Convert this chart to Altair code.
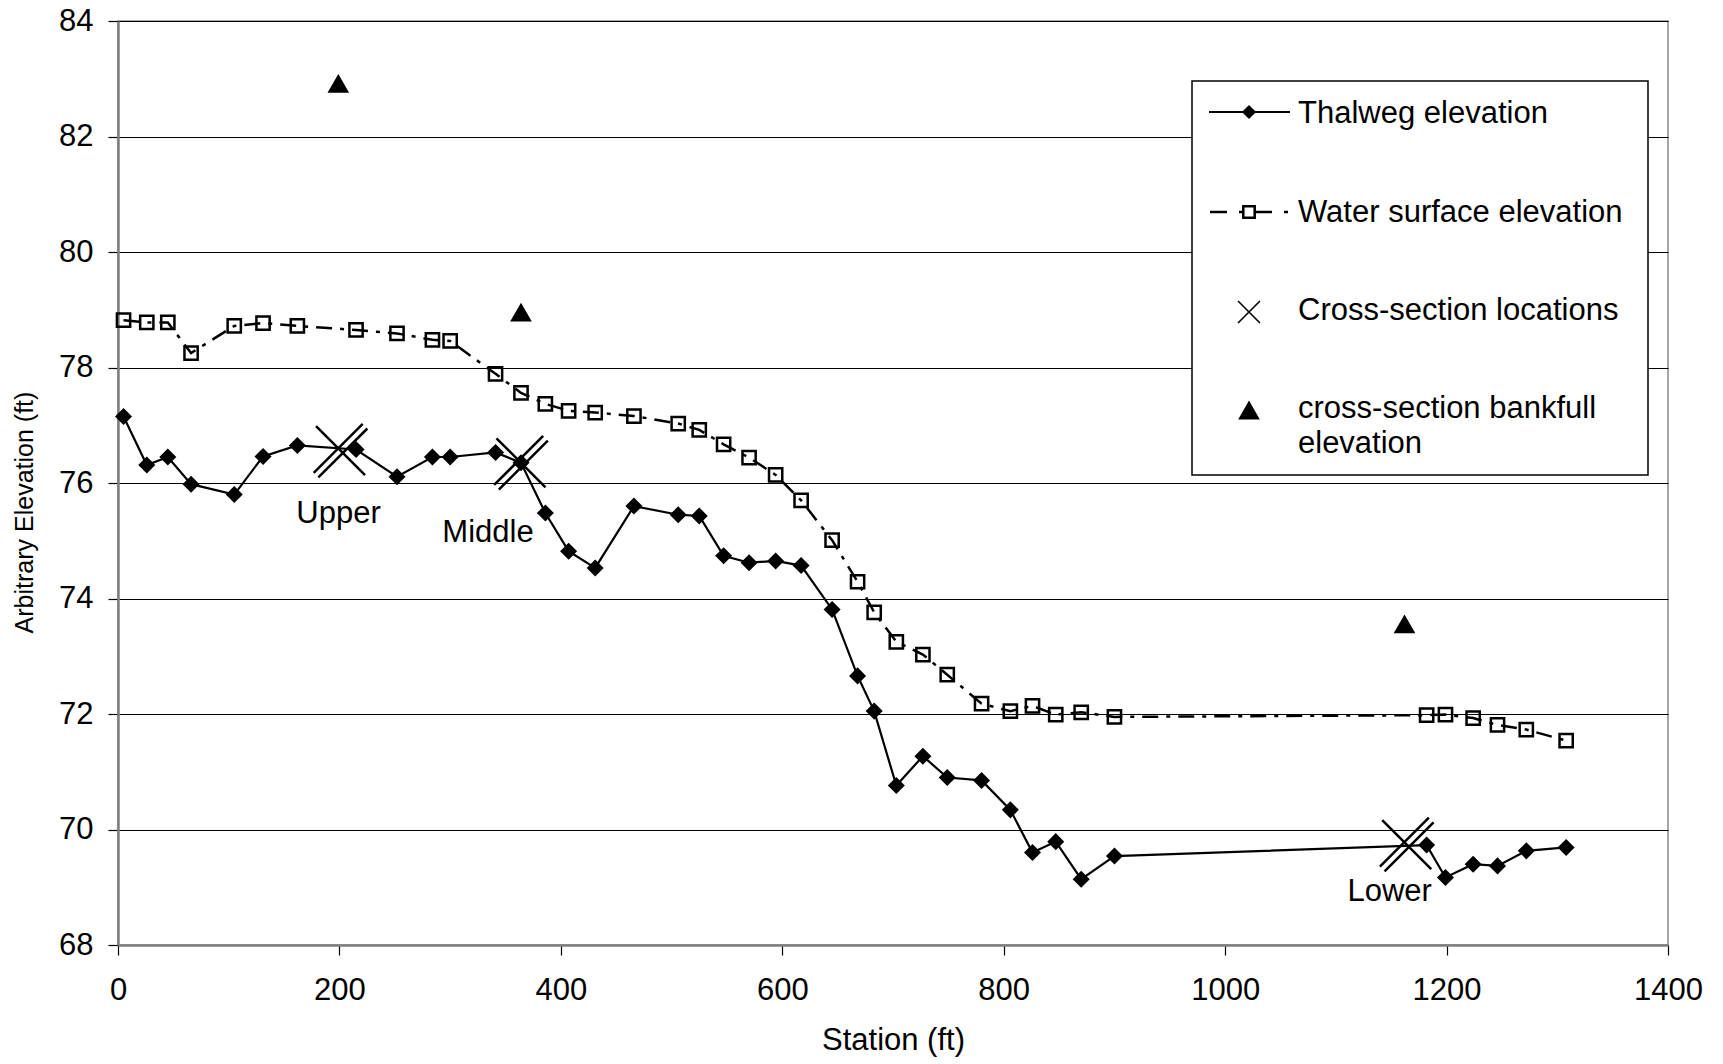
import altair as alt
import pandas as pd

# ---------------- data ----------------
stations = [5, 26, 45, 66, 105, 131, 162, 215, 252, 284, 300, 341, 364, 386, 407, 431,
            466, 506, 525, 547, 570, 594, 617, 645, 668, 683, 703, 727, 749, 780, 806,
            826, 847, 870, 900, 1182, 1199, 1224, 1246, 1272, 1308]
thalweg = [77.15, 76.31, 76.45, 75.98, 75.80, 76.46, 76.65, 76.58, 76.11, 76.45, 76.45,
           76.53, 76.35, 75.48, 74.82, 74.53, 75.60, 75.45, 75.43, 74.74, 74.62, 74.65,
           74.57, 73.81, 72.66, 72.05, 70.76, 71.27, 70.90, 70.85, 70.34, 69.60, 69.79,
           69.14, 69.54, 69.73, 69.17, 69.40, 69.37, 69.63, 69.69]
water = [78.82, 78.78, 78.78, 78.25, 78.72, 78.77, 78.72, 78.65, 78.59, 78.48, 78.46,
         77.89, 77.56, 77.37, 77.25, 77.22, 77.16, 77.03, 76.92, 76.67, 76.44, 76.14,
         75.70, 75.01, 74.29, 73.76, 73.25, 73.03, 72.68, 72.18, 72.05, 72.14, 71.99,
         72.03, 71.95, 71.98, 71.99, 71.93, 71.81, 71.73, 71.54]

xs_names = ["Upper", "Middle", "Lower"]
xs_station = [201, 364, 1164]
xs_elev = [76.56, 76.35, 69.74]

bank_station = [199, 364, 1162]
bank_elev = [82.92, 78.96, 73.56]

legend_labels = ["Thalweg elevation", "Water surface elevation", "Cross-section locations",
                 "cross-section bankfull", "elevation"]

x_ticks = [0, 200, 400, 600, 800, 1000, 1200, 1400]
y_ticks = [68, 70, 72, 74, 76, 78, 80, 82, 84]

FONT = "Liberation Sans"
FS = 31

profile = pd.DataFrame({"station": stations, "thalweg": thalweg, "water": water})
xsec = pd.DataFrame({"name": xs_names, "station": xs_station, "elev": xs_elev})
bank = pd.DataFrame({"station": bank_station, "elev": bank_elev})

x_enc = alt.X("station:Q",
              scale=alt.Scale(domain=[0, 1400], nice=False, zero=False),
              axis=alt.Axis(values=x_ticks, title="Station (ft)", grid=False,
                            labelPadding=20, titlePadding=20, format="d",
                            labelFlush=False))

def y_enc(field):
    return alt.Y(f"{field}:Q",
                 scale=alt.Scale(domain=[68, 84], nice=False, zero=False),
                 axis=alt.Axis(values=y_ticks, title="Arbitrary Elevation (ft)", grid=True,
                               labelPadding=15, titlePadding=21, titleFontSize=25,
                               titleY=491, labelFlush=False))

base = alt.Chart(profile)

thal_line = base.mark_line(color="black", strokeWidth=2.2).encode(x=x_enc, y=y_enc("thalweg"))
thal_pts = base.mark_point(shape="diamond", filled=True, size=290, color="black", opacity=1).encode(
    x=x_enc, y=y_enc("thalweg"))

water_line = base.mark_line(color="black", strokeWidth=2.5, strokeDash=[16, 8, 4, 8]).encode(
    x=x_enc, y=y_enc("water"))
water_pts = base.mark_point(shape="square", filled=False, size=175, color="black",
                            strokeWidth=2.5, opacity=1).encode(x=x_enc, y=y_enc("water"))

XSHAPE = "M-1,-1L1,1M-0.905,1.095L1.095,-0.905M-1.095,0.905L0.905,-1.095"
xs_pts = alt.Chart(xsec).mark_point(shape=XSHAPE, filled=False, size=2400, color="black",
                                     strokeWidth=2.5, opacity=1).encode(x=x_enc, y=y_enc("elev"))

label_offsets = {"Upper": (-2, 72), "Middle": (-33, 79), "Lower": (-17, 56)}
xs_labels = []
for nm in xs_names:
    dx, dy = label_offsets[nm]
    xs_labels.append(
        alt.Chart(xsec).transform_filter(alt.datum.name == nm)
        .mark_text(font=FONT, fontSize=FS, color="black", align="center",
                   baseline="alphabetic", dx=dx, dy=dy)
        .encode(x=x_enc, y=y_enc("elev"), text="name:N"))

bank_pts = alt.Chart(bank).mark_point(shape="triangle-up", filled=True, size=470, color="black",
                                      opacity=1).encode(x=x_enc, y=y_enc("elev"))

# ---------------- legend (drawn in pixel space of the plot) ----------------
one = pd.DataFrame({"k": [0]})
lg = alt.Chart(one)
legend_layers = [
    lg.mark_rect(fill="white", stroke="black", strokeWidth=1.5).encode(
        x=alt.value(1074), x2=alt.value(1530), y=alt.value(60), y2=alt.value(454)),
    lg.mark_rule(color="black", strokeWidth=2.2).encode(
        x=alt.value(1091), x2=alt.value(1172), y=alt.value(91)),
    lg.mark_point(shape="diamond", filled=True, size=200, color="black", opacity=1).encode(
        x=alt.value(1131), y=alt.value(91)),
    lg.mark_rule(color="black", strokeWidth=2.5, strokeDash=[17, 12, 4, 12]).encode(
        x=alt.value(1092), x2=alt.value(1170), y=alt.value(191)),
    lg.mark_point(shape="square", filled=False, size=130, color="black", strokeWidth=2.5,
                  opacity=1).encode(x=alt.value(1131), y=alt.value(191)),
    lg.mark_point(shape="M-1,-1L1,1M-1,1L1,-1", filled=False, size=480, color="black",
                  strokeWidth=1.6, opacity=1).encode(x=alt.value(1131), y=alt.value(291)),
    lg.mark_point(shape="triangle-up", filled=True, size=470, color="black", opacity=1).encode(
        x=alt.value(1131), y=alt.value(389)),
]
text_y = [102, 201, 299, 397, 432]
for lab, ty in zip(legend_labels, text_y):
    legend_layers.append(
        lg.mark_text(font=FONT, fontSize=FS, color="black", align="left", baseline="alphabetic")
        .encode(x=alt.value(1180), y=alt.value(ty), text=alt.value(lab)))

chart = alt.layer(
    thal_line, thal_pts, water_line, water_pts, xs_pts, *xs_labels, bank_pts, *legend_layers
).properties(
    width=1550, height=924,
    autosize=alt.AutoSizeParams(type="none"),
    padding={"left": 110, "top": 13, "right": 40, "bottom": 118},
).configure_axis(
    labelFont=FONT, titleFont=FONT, labelFontSize=FS, titleFontSize=FS,
    labelColor="black", titleColor="black", titleFontWeight="normal",
    tickColor="black", tickSize=10, tickWidth=1.2,
    domainColor="#7f7f7f", domainWidth=2.5,
    gridColor="black", gridWidth=1.1,
).configure_view(stroke="#8a8a8a", strokeWidth=1.5)

chart.save("out.html", embed_options={"renderer": "svg", "actions": False})
